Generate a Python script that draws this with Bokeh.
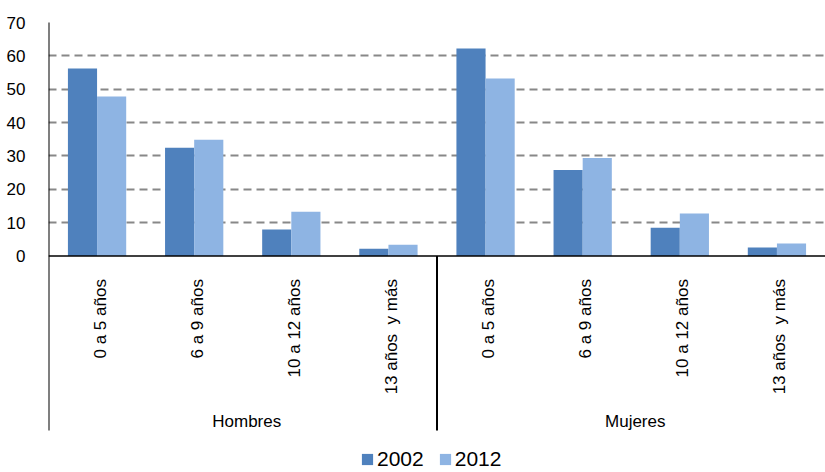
import math
from bokeh.plotting import figure
from bokeh.models import (FactorRange, Range1d, FixedTicker, ColumnDataSource,
                          Span, Legend, LegendItem)
from bokeh.transform import dodge
from bokeh.core.properties import value
from bokeh.embed import file_html
from bokeh.resources import INLINE

# ---------------- data ----------------
groups = ["Hombres", "Mujeres"]
age_groups = ["0 a 5 años", "6 a 9 años", "10 a 12 años", "13 años \u00a0y más"]
years = ["2002", "2012"]
hombres_2002 = [56.2, 32.5, 8.0, 2.2]
hombres_2012 = [47.8, 34.9, 13.3, 3.4]
mujeres_2002 = [62.2, 25.8, 8.5, 2.6]
mujeres_2012 = [53.2, 29.4, 12.8, 3.8]
y_ticks = [0, 10, 20, 30, 40, 50, 60, 70]

# ---------------- styles ----------------
FONT = "Liberation Sans"
C2002 = "#4F81BD"
C2012 = "#8EB4E3"
Y_TOP = 70
Y_BOTTOM = -64.85
SEP_BOTTOM = -52.3

factors = [(g, a) for g in groups for a in age_groups]
src = ColumnDataSource(dict(
    x=factors,
    v2002=hombres_2002 + mujeres_2002,
    v2012=hombres_2012 + mujeres_2012,
    label=[a for g in groups for a in age_groups],
))

p = figure(width=825, height=472,
           x_range=FactorRange(*factors, factor_padding=0, group_padding=0,
                               subgroup_padding=0, range_padding=0),
           y_range=Range1d(Y_BOTTOM, Y_TOP),
           output_backend="svg", toolbar_location=None,
           min_border_left=48, min_border_right=0,
           min_border_top=22, min_border_bottom=0)
p.outline_line_color = None
p.background_fill_color = "white"
p.border_fill_color = "white"

p.xaxis.visible = False
p.xgrid.visible = False

yax = p.yaxis[0]
yax.ticker = FixedTicker(ticks=y_ticks)
yax.axis_line_color = None
yax.major_tick_line_color = None
yax.minor_tick_line_color = None
yax.major_label_standoff = 17
yax.major_label_text_font = FONT
yax.major_label_text_font_size = "17px"
yax.major_label_text_color = "black"

p.ygrid.ticker = FixedTicker(ticks=y_ticks[1:])
p.ygrid.grid_line_color = "#888888"
p.ygrid.grid_line_dash = "8 5"
p.ygrid.grid_line_width = 2

r1 = p.vbar(x=dodge("x", -0.15, range=p.x_range), top="v2002", width=0.3,
            source=src, fill_color=C2002, line_color=None)
r2 = p.vbar(x=dodge("x", 0.15, range=p.x_range), top="v2012", width=0.3,
            source=src, fill_color=C2012, line_color=None)

# x axis line at 0
p.add_layout(Span(location=0, dimension="width", line_color="black", line_width=1.5))

# left axis line and group separator
sep = ColumnDataSource(dict(
    x=[(groups[0], age_groups[0]), (groups[1], age_groups[0])],
    y0=[Y_TOP + 0.3, 0],
    y1=[SEP_BOTTOM, SEP_BOTTOM],
))
p.segment(x0=dodge("x", -0.5, range=p.x_range), x1=dodge("x", -0.5, range=p.x_range),
          y0="y0", y1="y1", source=sep, line_color="black", line_width=2)

# category labels (rotated)
p.text(x="x", y=0, text="label", source=src, angle=math.pi / 2,
       text_align="right", text_baseline="middle", y_offset=23, x_offset=3,
       text_font=value(FONT), text_font_size="17px", text_color="black")

# group labels
p.text(x=groups, y=[0, 0], text=groups, text_align="center", text_baseline="middle",
       y_offset=165, x_offset=4,
       text_font=value(FONT), text_font_size="17px", text_color="black")

legend = Legend(items=[LegendItem(label=years[0], renderers=[r1]),
                       LegendItem(label=years[1], renderers=[r2])],
                orientation="horizontal", location=(312, 1),
                glyph_width=14, glyph_height=14, label_standoff=3, spacing=14,
                padding=0, margin=0, border_line_color=None,
                background_fill_alpha=0,
                label_text_font=FONT, label_text_font_size="21px",
                label_text_color="black")
p.add_layout(legend)

open("out.html", "w").write(file_html(p, INLINE))
